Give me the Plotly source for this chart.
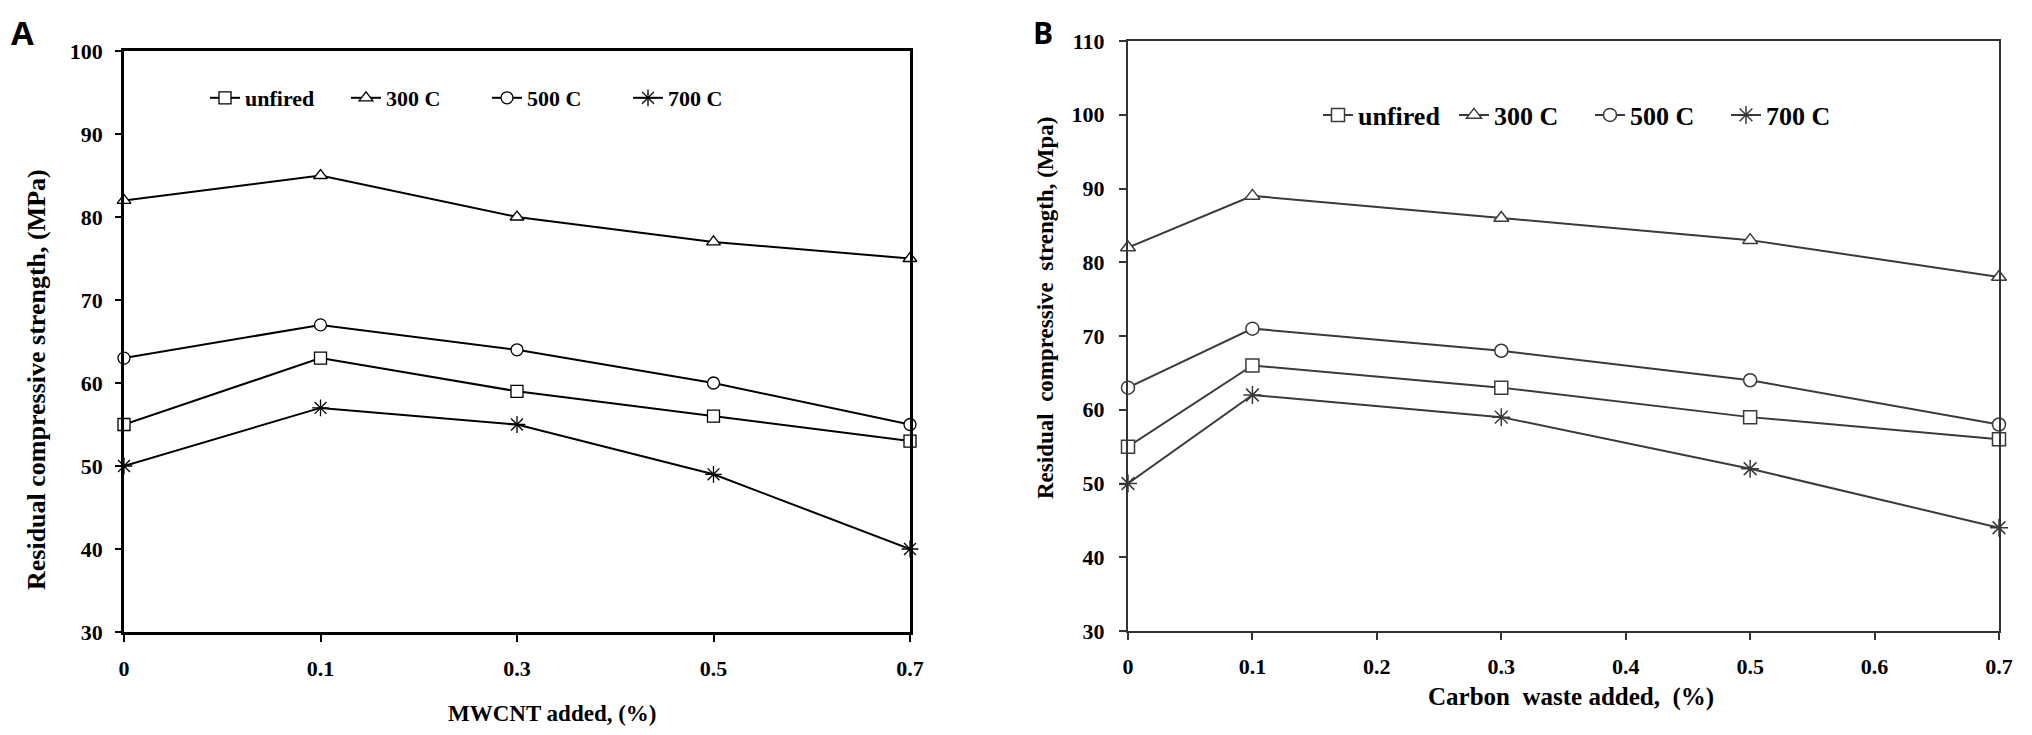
import plotly.graph_objects as go

# ---------------- data ----------------
series_names = ["unfired", "300 C", "500 C", "700 C"]
symbols = ["square", "triangle-up", "circle", "asterisk-open"]

a_categories = ["0", "0.1", "0.3", "0.5", "0.7"]
a_unfired = [55, 63, 59, 56, 53]
a_300 = [82, 85, 80, 77, 75]
a_500 = [63, 67, 64, 60, 55]
a_700 = [50, 57, 55, 49, 40]

b_x = [0, 0.1, 0.3, 0.5, 0.7]
b_unfired = [55, 66, 63, 59, 56]
b_300 = [82, 89, 86, 83, 78]
b_500 = [63, 71, 68, 64, 58]
b_700 = [50, 62, 59, 52, 44]

a_yticks = [30, 40, 50, 60, 70, 80, 90, 100]
b_yticks = [30, 40, 50, 60, 70, 80, 90, 100, 110]
b_xticks = [0, 0.1, 0.2, 0.3, 0.4, 0.5, 0.6, 0.7]

# ---------------- geometry helpers ----------------
W, H = 2016, 719
OFF = 8
def px(x):
    return (x - OFF) / W
def py(y):
    return 1 - (y - OFF) / H

SERIF = "Liberation Serif"
fig = go.Figure()

a_series = [a_unfired, a_300, a_500, a_700]
b_series = [b_unfired, b_300, b_500, b_700]

for name, sym, vals in zip(series_names, symbols, a_series):
    is_ast = sym.startswith("asterisk")
    fig.add_trace(go.Scatter(
        x=a_categories, y=vals, name=name, mode="lines+markers",
        xaxis="x", yaxis="y", legend="legend", cliponaxis=False,
        line=dict(color="black", width=2),
        marker=dict(symbol=sym, size=14 if is_ast else 12,
                    color="black" if is_ast else "white",
                    line=dict(color="black", width=1.3)),
    ))

for name, sym, vals in zip(series_names, symbols, b_series):
    is_ast = sym.startswith("asterisk")
    fig.add_trace(go.Scatter(
        x=b_x, y=vals, name=name, mode="lines+markers",
        xaxis="x2", yaxis="y2", legend="legend2", cliponaxis=False,
        line=dict(color="#3a3a3a", width=2),
        marker=dict(symbol=sym, size=15 if is_ast else 13,
                    color="#3a3a3a" if is_ast else "white",
                    line=dict(color="#3a3a3a", width=1.5)),
    ))

tickfont = dict(family=SERIF, size=22, color="black", weight="bold")

fig.update_layout(
    width=W, height=H,
    margin=dict(l=0, r=0, t=0, b=0),
    paper_bgcolor="white", plot_bgcolor="white",
    showlegend=True,
    xaxis=dict(domain=[px(124), px(910)], type="category",
               categoryorder="array", categoryarray=a_categories,
               range=[0, 4], showgrid=False, zeroline=False,
               showline=True, linecolor="black", linewidth=2.5, mirror=True,
               ticks="outside", ticklen=7, tickwidth=2, tickcolor="black",
               tickfont=tickfont, ticklabelstandoff=8,
               anchor="y", automargin=False),
    yaxis=dict(domain=[py(632), py(51)], range=[30, 100],
               tickvals=a_yticks, showgrid=False, zeroline=False,
               showline=True, linecolor="black", linewidth=2.5, mirror=True,
               ticks="outside", ticklen=6, tickwidth=2, tickcolor="black",
               tickfont=tickfont, ticklabelstandoff=8,
               anchor="x", automargin=False),
    xaxis2=dict(domain=[px(1128), px(1999)], range=[0, 0.7],
                tickvals=b_xticks, showgrid=False, zeroline=False,
                showline=True, linecolor="#333333", linewidth=2, mirror=True,
                ticks="outside", ticklen=7, tickwidth=2, tickcolor="#333333",
                tickfont=tickfont, ticklabelstandoff=8,
                anchor="y2", automargin=False),
    yaxis2=dict(domain=[py(631), py(41)], range=[30, 110],
                tickvals=b_yticks, showgrid=False, zeroline=False,
                showline=True, linecolor="#333333", linewidth=2, mirror=True,
                ticks="outside", ticklen=7, tickwidth=2, tickcolor="#333333",
                tickfont=tickfont, ticklabelstandoff=10,
                anchor="x2", automargin=False),
    legend=dict(orientation="h", x=px(205), y=py(98), xanchor="left",
                yanchor="middle", bgcolor="rgba(0,0,0,0)",
                font=dict(family=SERIF, size=22, color="black", weight="bold"),
                itemwidth=30, entrywidth=96, entrywidthmode="pixels",
                tracegroupgap=0),
    legend2=dict(orientation="h", x=px(1318), y=py(115), xanchor="left",
                 yanchor="middle", bgcolor="rgba(0,0,0,0)",
                 font=dict(family=SERIF, size=26, color="black", weight="bold"),
                 itemwidth=30, entrywidth=91, entrywidthmode="pixels",
                 tracegroupgap=0),
)

def note(text, x, y, size, angle=0, family=SERIF, yanchor="middle"):
    fig.add_annotation(text=text, x=px(x), y=py(y), xref="paper", yref="paper",
                       xanchor="center", yanchor=yanchor, textangle=angle,
                       showarrow=False,
                       font=dict(family=family, size=size, color="black",
                                 weight="bold"))

note("Residual compressive strength, (MPa)", 36, 380, 26, angle=-90)
note("MWCNT added, (%)", 552, 713, 23)
note("Residual  compressive  strength, (Mpa)", 1045, 308, 23, angle=-90)
note("Carbon  waste added,  (%)", 1571, 697, 25)
note("A", 22, 8, 33, family="Open Sans", yanchor="top")
note("B", 1043, 10, 30, family="Open Sans", yanchor="top")

fig.write_html("out.html")
